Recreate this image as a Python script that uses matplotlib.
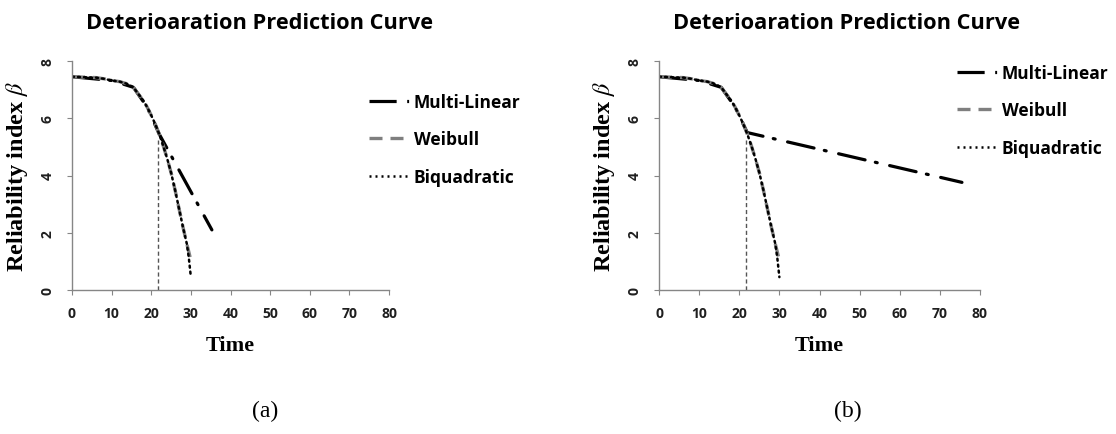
import matplotlib
matplotlib.use('Agg')
import matplotlib.pyplot as plt
from matplotlib.lines import Line2D

plt.rcParams['mathtext.fontset'] = 'stix'

# data (time in years, reliability index beta)
weibull_time = [0, 2, 4, 6, 8, 10, 12, 14, 15.5, 17, 18, 19, 20, 21, 22, 23, 24, 25, 26, 27, 28, 29, 29.8]
weibull_beta = [7.45, 7.44, 7.43, 7.42, 7.38, 7.32, 7.28, 7.2, 7.08, 6.8, 6.62, 6.38, 6.1, 5.8, 5.45,
                5.05, 4.6, 4.1, 3.5, 2.85, 2.2, 1.6, 1.15]

biquad_time = [0, 2, 4, 6, 8, 10, 12, 14, 15.5, 17, 18, 19, 20, 21, 22, 23, 24, 25, 26, 27, 28, 29, 29.5, 30]
biquad_beta = [7.45, 7.44, 7.43, 7.42, 7.38, 7.32, 7.28, 7.2, 7.08, 6.8, 6.62, 6.38, 6.1, 5.8, 5.45,
               5.05, 4.6, 4.1, 3.5, 2.85, 2.2, 1.6, 1.1, 0.45]

multilin_a_time = [0, 10, 15.5, 19, 22, 35.3]
multilin_a_beta = [7.45, 7.32, 7.08, 6.38, 5.45, 2.1]

multilin_b_time = [0, 10, 15.5, 19, 22, 75.5]
multilin_b_beta = [7.45, 7.32, 7.08, 6.38, 5.5, 3.76]

cutoff_time = 21.7
cutoff_beta = 5.3

x_ticks = [0, 10, 20, 30, 40, 50, 60, 70, 80]
y_ticks = [0, 2, 4, 6, 8]
panel_tags = ['(a)', '(b)']

sans_font = 'Open Sans'
serif_font = 'Liberation Serif'
spine_col = '#868686'
text_col = '#1f1f1f'

ml_style = (0, (8.5, 3.3, 0.6, 4))
wb_style = (0, (3.9, 2.4))
bq_style = (0, (0.8, 1.6))


def draw_panel(fig, rect, ml_t, ml_b, tag, tag_x, legend_anchor):
    ax = fig.add_axes(rect)
    ax.plot(ml_t, ml_b, color='black', lw=2.3, linestyle=ml_style, dash_capstyle='round')
    ax.plot(weibull_time, weibull_beta, color='#7f7f7f', lw=2.4, linestyle=wb_style)
    ax.plot(biquad_time, biquad_beta, color='black', lw=1.8, linestyle=bq_style, dash_capstyle='round')
    ax.plot([cutoff_time, cutoff_time], [0, cutoff_beta], color='#555555', lw=1.0, linestyle=(0, (3, 2)))

    ax.set_xlim(0, 80)
    ax.set_ylim(0, 8)
    ax.set_xticks(x_ticks)
    ax.set_yticks(y_ticks)
    for s in ['top', 'right']:
        ax.spines[s].set_visible(False)
    for s in ['left', 'bottom']:
        ax.spines[s].set_color(spine_col)
        ax.spines[s].set_linewidth(1.0)
    ax.tick_params(axis='x', length=3.5, color=spine_col, pad=8, labelsize=10, labelcolor=text_col)
    ax.tick_params(axis='y', length=3.5, color=spine_col, pad=9, labelsize=10, labelcolor=text_col,
                   labelrotation=90)
    for lab in ax.get_xticklabels() + ax.get_yticklabels():
        lab.set_fontfamily(sans_font)
        lab.set_fontweight('bold')
    for lab in ax.get_yticklabels():
        lab.set_va('center')

    ax.set_xlabel('Time', fontfamily=serif_font, fontweight='bold', fontsize=16, labelpad=11)
    ax.set_ylabel(r'Reliability index $\beta$', fontfamily=serif_font, fontweight='bold',
                  fontsize=17.5, labelpad=8)
    ax.set_title('Deterioaration Prediction Curve', fontfamily=sans_font, fontweight='bold',
                 fontsize=15.7, loc='left', x=0.045, y=1.0, pad=24)

    handles = [
        Line2D([], [], color='black', lw=2.3, linestyle=ml_style),
        Line2D([], [], color='#7f7f7f', lw=2.4, linestyle=wb_style),
        Line2D([], [], color='black', lw=1.8, linestyle=bq_style),
    ]
    fig.legend(handles, ['Multi-Linear', 'Weibull', 'Biquadratic'], loc='upper left',
               bbox_to_anchor=legend_anchor, frameon=False, handlelength=2.3, handletextpad=0.3,
               labelspacing=1.14, prop={'family': sans_font, 'weight': 'bold', 'size': 12.5})
    fig.text(tag_x, 0.053, tag, fontfamily=serif_font, fontsize=17, ha='center', va='center')
    return ax


fig = plt.figure(figsize=(11.16, 4.35), dpi=100)
draw_panel(fig, [72 / 1116, 144 / 435, 317 / 1116, 229 / 435], multilin_a_time, multilin_a_beta,
           panel_tags[0], 265 / 1116, (353 / 1116, 1 - 78 / 435))
draw_panel(fig, [659 / 1116, 144 / 435, 321 / 1116, 229 / 435], multilin_b_time, multilin_b_beta,
           panel_tags[1], 848 / 1116, (941 / 1116, 1 - 49 / 435))

fig.savefig('out.png', dpi=100)
